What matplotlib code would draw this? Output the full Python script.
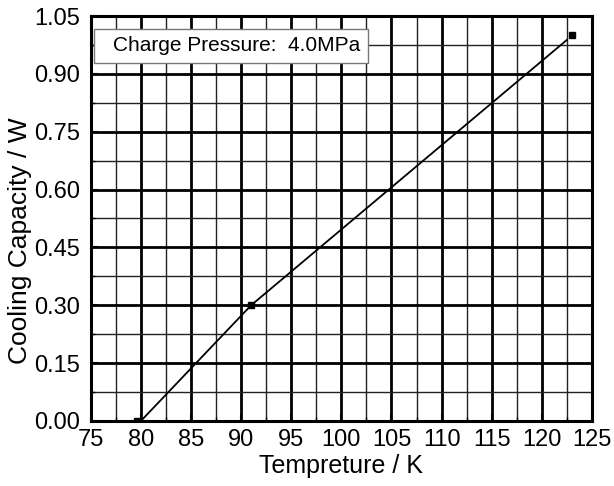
import matplotlib.pyplot as plt
import numpy as np
from matplotlib.patches import Rectangle
from matplotlib.ticker import MultipleLocator

# measured points
temp_pts = [79.6, 91.0, 123.0]
cap_pts = [0.0, 0.30, 1.0]

# fitted line
temp_line = [80.0, 91.0, 122.5]
cap_line = [0.0, 0.30, 0.988]

plt.rcParams['font.family'] = ['Liberation Sans', 'DejaVu Sans']

fig = plt.figure(figsize=(6.14, 4.86), dpi=100)
ax = fig.add_axes([0.148, 0.134, 0.816, 0.833])

ax.plot(temp_line, cap_line, color='black', lw=1.3, zorder=3)
ax.plot(temp_pts, cap_pts, 's', color='black', ms=5, zorder=4)

ax.set_xlim(75, 125)
ax.set_ylim(0, 1.05)
ax.xaxis.set_major_locator(MultipleLocator(5))
ax.xaxis.set_minor_locator(MultipleLocator(2.5))
ax.yaxis.set_major_locator(MultipleLocator(0.15))
ax.yaxis.set_minor_locator(MultipleLocator(0.075))
ax.yaxis.set_major_formatter(plt.FormatStrFormatter('%.2f'))

ax.grid(True, which='major', color='black', lw=2.0)
ax.grid(True, which='minor', color='#222222', lw=1.0)
ax.set_axisbelow(True)

ax.tick_params(which='both', direction='in', labelsize=17, top=False, right=False)
ax.tick_params(which='major', length=5, width=1.5)
ax.tick_params(axis='x', which='major', pad=6)
ax.tick_params(axis='y', which='major', pad=8)
ax.tick_params(which='minor', length=3, width=1)
for s in ax.spines.values():
    s.set_linewidth(2.2)

ax.set_xlabel('Tempreture / K', fontsize=18)
ax.xaxis.set_label_coords(0.5, -0.082)
ax.set_ylabel('Cooling Capacity / W', fontsize=19)
ax.yaxis.set_label_coords(-0.118, 0.444)

# label box
ax.add_patch(Rectangle((0.006, 0.884), 0.547, 0.084, transform=ax.transAxes,
                       fc='white', ec='#777777', lw=1, zorder=5))
ax.text(0.044, 0.926, 'Charge Pressure:  4.0MPa', transform=ax.transAxes,
        fontsize=15, va='center', ha='left', zorder=6)

fig.savefig('out.png', dpi=100)
